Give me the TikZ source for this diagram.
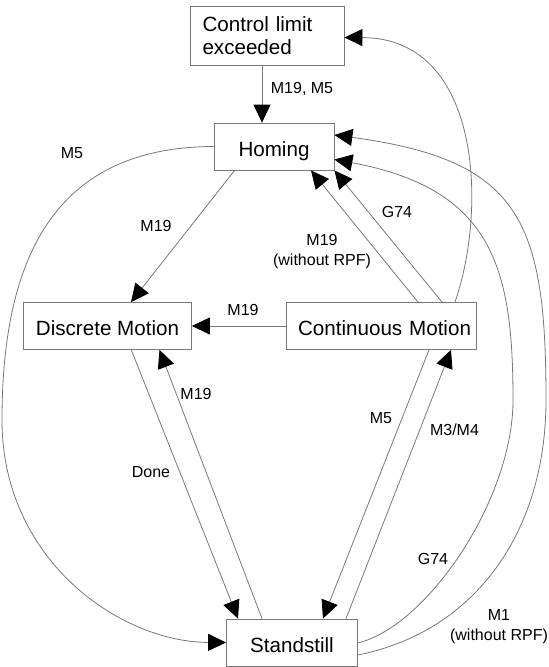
\documentclass[tikz,border=0pt]{standalone}
\usepackage{fontspec}
\setmainfont{Liberation Sans}
\usetikzlibrary{arrows.meta,calc}
\definecolor{linegray}{RGB}{120,120,120}
\begin{document}
\begin{tikzpicture}[x=1pt,y=-1pt,
  state/.style={draw=linegray, fill=white, line width=0.8pt, rectangle,
    minimum height=47pt, inner sep=0pt, text height=19.6pt, text depth=0pt,
    font=\fontsize{20.6}{22.5}\selectfont},
  lbl/.style={font=\fontsize{16}{20}\selectfont, inner sep=0pt, align=center},
  conn/.style={draw=linegray, line width=0.8pt,
    -{Triangle[length=18pt,width=17pt,color=black]}}]
\useasboundingbox (0,0) rectangle (549,667);

\node[state, minimum width=154pt, minimum height=59pt, text width=129pt,
  inner xsep=12.5pt, align=left, text height=, text depth=] (cl) at (267,35.5) {Control limit\\exceeded};
\node[state, minimum width=120pt] (hom) at (274,146.5) {Homing};
\node[state, minimum width=168pt] (dis) at (107.5,326) {Discrete Motion};
\node[state, minimum width=190pt, text width=180pt, inner xsep=5pt, align=right] (con) at (381,326) {Continuous Motion};
\node[state, minimum width=131pt] (sta) at (292,642.5) {Standstill};

\draw[conn] ($(cl.south)+(-5,0)$) -- ($(hom.north)+(-12,0)$);
\draw[conn] ($(hom.south west)+(21,0)$) -- ($(dis.north)+(23.5,0)$);
\draw[conn] (hom.west) .. controls (60,147) and (2,250) .. (2,420)
  .. controls (2,560) and (120,642) .. (sta.west);
\draw[conn] (con.west) -- (dis.east);
\draw[conn] ($(con.north)+(37,0)$) -- ($(hom.south)+(37,0)$);
\draw[conn] ($(con.north)+(61,0)$) -- (hom.south east);
\draw[conn] ($(con.north)+(74,0)$) .. controls (487,210) and (482,38) .. ($(cl.east)+(0,2)$);
\draw[conn] ($(sta.east)+(0,0.5)$) .. controls (427,626) and (513,500) .. (513,400)
  .. controls (513,270) and (494,189) .. ($(hom.east)+(0,13)$);
\draw[conn] ($(sta.east)+(0,12.5)$) .. controls (477,631) and (546,530) .. (546,400)
  .. controls (546,220) and (520,160) .. ($(hom.east)+(0,-11.5)$);
\draw[conn] ($(dis.south)+(23.8,0)$) -- ($(sta.north)+(-54,0)$);
\draw[conn] ($(sta.north)+(-30,0)$) -- ($(dis.south)+(52,0)$);
\draw[conn] ($(con.south)+(48,0)$) -- ($(sta.north)+(31,0)$);
\draw[conn] ($(sta.north)+(54,0)$) -- ($(con.south)+(70,0)$);

\node[lbl] (l1) at (302,89) {M19, M5};
\node[lbl] (l2) at (156,226) {M19};
\node[lbl] (l3) at (72,153) {M5};
\node[lbl] (l4) at (243,310) {M19};
\node[lbl] (l5) at (322,251.5) {M19\\(without RPF)};
\node[lbl] (l6) at (397,212) {G74};
\node[lbl] (l7) at (196,394) {M19};
\node[lbl] (l8) at (151,472) {Done};
\node[lbl] (l9) at (381,418) {M5};
\node[lbl] (l10) at (454.5,430) {M3/M4};
\node[lbl] (l11) at (433,559) {G74};
\node[lbl] (l12) at (499,626.7) {M1\\(without RPF)};
\end{tikzpicture}
\end{document}
